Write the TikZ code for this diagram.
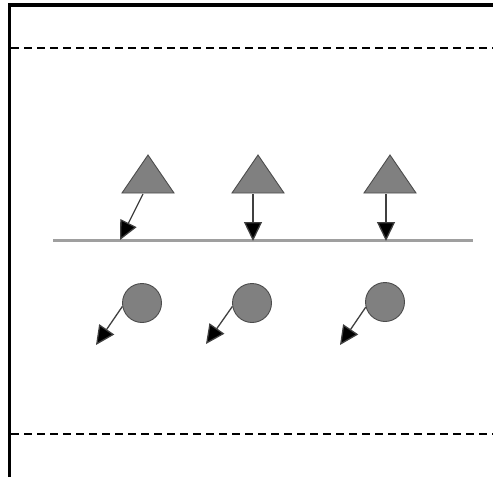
\documentclass[tikz,border=0pt]{standalone}
\usetikzlibrary{arrows.meta}
\begin{document}
\begin{tikzpicture}[x=1pt,y=-1pt,
  frame/.style={line width=3.2pt,black},
  lane/.style={line width=1.4pt,dash pattern=on 8pt off 5pt,black},
  ground/.style={line width=3pt,gray!75},
  shapefill/.style={fill=gray,draw=black!70,line width=0.9pt},
  vec/.style={line width=1.3pt,black!75,-{Triangle[length=19pt,width=18pt,fill=black]}}]
\useasboundingbox (0,0) rectangle (493,477);
% frame
\draw[frame] (9.5,477) -- (9.5,5) -- (493,5);
\draw[lane] (11,48) -- (493,48);
\draw[lane] (11,434) -- (493,434);
% ground line
\coordinate (gl) at (53,240);
\coordinate (gr) at (473,240);
\draw[ground] (gl) -- (gr);
% triangles
\foreach \n/\x in {1/148,2/258,3/390}{
  \draw[shapefill] (\x,155) -- (\x+26,193) -- (\x-26,193) -- cycle;
}
\coordinate (t1) at (143,194);
\coordinate (t2) at (253,194);
\coordinate (t3) at (386,194);
\coordinate (h1) at (120,240);
\coordinate (h2) at (253,241);
\coordinate (h3) at (386,241);
\draw[vec] (t1) -- (h1);
\draw[vec] (t2) -- (h2);
\draw[vec] (t3) -- (h3);
% circles
\node[circle,shapefill,minimum size=39pt,inner sep=0pt] (c1) at (142,303) {};
\node[circle,shapefill,minimum size=39pt,inner sep=0pt] (c2) at (252,303) {};
\node[circle,shapefill,minimum size=39pt,inner sep=0pt] (c3) at (385,302) {};
\coordinate (e1) at (96,345);
\coordinate (e2) at (206,344);
\coordinate (e3) at (340,345);
\draw[vec] (c1.190) -- (e1);
\draw[vec] (c2.190) -- (e2);
\draw[vec] (c3.195) -- (e3);
\end{tikzpicture}
\end{document}
